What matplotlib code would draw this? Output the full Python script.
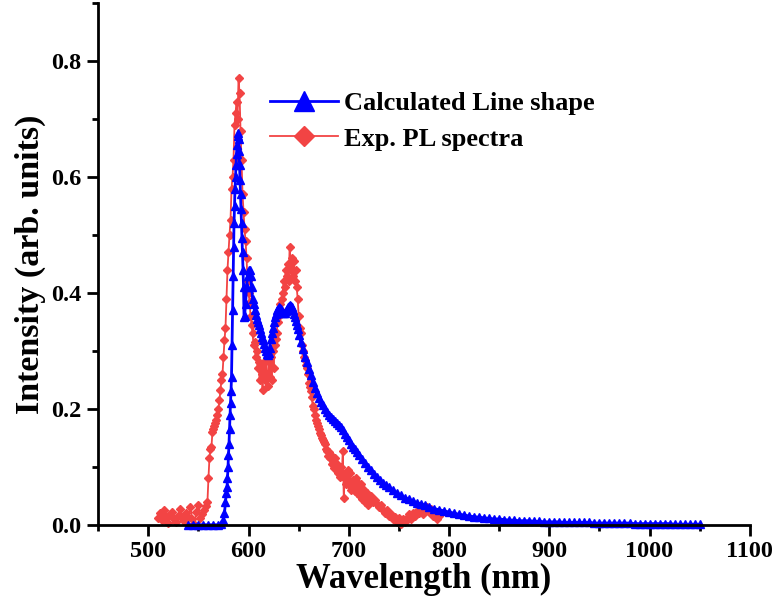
import matplotlib.pyplot as plt
from matplotlib.ticker import MultipleLocator

# calculated line shape
calc_wl = [540, 545, 550, 555, 560, 565, 570, 573, 575, 576, 577, 578, 578.5, 579, 579.5,
           580, 580.5, 581, 581.5, 582, 582.5, 583, 583.5, 584, 584.5, 585, 585.5, 586,
           586.5, 587, 587.5, 588, 588.5, 589, 589.5, 590, 590.5, 591, 591.5, 592, 592.5,
           593, 593.5, 594, 594.5, 595, 595.5, 596, 597, 598, 599, 600, 601, 602, 603,
           604, 605, 606, 607, 608, 609, 610, 611, 612, 613, 614, 615, 616, 617, 618, 619,
           620, 621, 622, 623, 624, 625, 626, 627, 628, 629, 630, 631, 632, 633, 634, 635,
           636, 637, 638, 639, 640, 641, 642, 643, 644, 645, 646, 647, 648, 649, 650, 652,
           654, 656, 658, 660, 662, 664, 666, 668, 670, 672, 674, 676, 678, 680, 682, 684,
           686, 688, 690, 692, 694, 696, 698, 700, 702, 704, 706, 708, 710, 713, 716, 719,
           722, 725, 728, 731, 734, 737, 740, 744, 748, 752, 756, 760, 764, 768, 772, 776,
           780, 785, 790, 795, 800, 805, 810, 815, 820, 825, 830, 835, 840, 845, 850, 855,
           860, 865, 870, 875, 880, 885, 890, 895, 900, 905, 910, 915, 920, 925, 930, 935,
           940, 945, 950, 955, 960, 965, 970, 975, 980, 985, 990, 995, 1000, 1005, 1010,
           1015, 1020, 1025, 1030, 1035, 1040, 1045, 1050]
calc_int = [0.0, 0.0, 0.0, 0.0, 0.0, 0.0, 0.0, 0.002, 0.008, 0.02, 0.04, 0.055, 0.065, 0.08, 0.1,
            0.12, 0.14, 0.165, 0.19, 0.21, 0.23, 0.255, 0.31, 0.37, 0.43, 0.48, 0.52, 0.55,
            0.58, 0.6, 0.62, 0.64, 0.655, 0.67, 0.675, 0.665, 0.645, 0.62, 0.595, 0.57, 0.545,
            0.52, 0.495, 0.47, 0.44, 0.41, 0.358, 0.36, 0.38, 0.41, 0.43, 0.44, 0.44, 0.43, 0.41,
            0.39, 0.38, 0.37, 0.362, 0.355, 0.35, 0.345, 0.338, 0.33, 0.324, 0.318, 0.311, 0.305,
            0.299, 0.294, 0.293, 0.296, 0.305, 0.32, 0.33, 0.34, 0.35, 0.358, 0.364, 0.37, 0.373,
            0.375, 0.374, 0.372, 0.369, 0.366, 0.365, 0.366, 0.368, 0.372, 0.375, 0.378, 0.379,
            0.378, 0.375, 0.37, 0.364, 0.358, 0.352, 0.345, 0.337, 0.328, 0.316, 0.303, 0.29,
            0.28, 0.268, 0.258, 0.247, 0.236, 0.227, 0.218, 0.211, 0.206, 0.2, 0.195, 0.19,
            0.186, 0.182, 0.179, 0.176, 0.173, 0.169, 0.164, 0.157, 0.151, 0.146, 0.14, 0.135,
            0.13, 0.125, 0.12, 0.113, 0.106, 0.1, 0.094, 0.088, 0.082, 0.077, 0.072, 0.068,
            0.065, 0.06, 0.055, 0.051, 0.047, 0.044, 0.041, 0.038, 0.036, 0.034, 0.031, 0.028,
            0.026, 0.024, 0.022, 0.02, 0.018, 0.017, 0.015, 0.014, 0.013, 0.012, 0.011, 0.01,
            0.01, 0.009, 0.008, 0.008, 0.007, 0.007, 0.007, 0.006, 0.006, 0.005, 0.005, 0.005,
            0.005, 0.004, 0.004, 0.004, 0.004, 0.004, 0.004, 0.003, 0.003, 0.003, 0.003, 0.003,
            0.003, 0.003, 0.003, 0.002, 0.002, 0.002, 0.002, 0.002, 0.002, 0.002, 0.002, 0.001,
            0.001, 0.001, 0.001, 0.001, 0.001]

exp_wl = [510, 512, 514, 516, 518, 520, 522, 524, 526, 528, 530, 532, 534, 536, 538, 540,
          542, 544, 546, 548, 550, 552, 554, 556, 558, 559, 560, 561, 562, 563, 564, 565,
          566, 567, 568, 569, 570, 571, 572, 573, 574, 575, 576, 577, 578, 579, 580, 581,
          582, 583, 584, 585, 586, 587, 588, 589, 590, 591, 592, 593, 594, 595, 596, 597,
          598, 599, 600, 601, 602, 603, 604, 605, 606, 607, 608, 609, 610, 611, 612, 613,
          614, 615, 616, 617, 618, 619, 620, 621, 622, 623, 624, 625, 626, 627, 628, 629,
          630, 631, 632, 633, 634, 635, 636, 637, 638, 639, 640, 641, 642, 643, 644, 645,
          646, 647, 648, 649, 650, 651, 652, 653, 654, 655, 656, 657, 658, 659, 660, 661,
          662, 663, 664, 665, 666, 667, 668, 669, 670, 671, 672, 673, 674, 675, 676, 677,
          678, 679, 680, 681, 682, 683, 684, 685, 686, 687, 688, 689, 690, 691, 692, 693,
          694, 695, 696, 697, 698, 699, 700, 701, 702, 703, 704, 705, 706, 707, 708, 709,
          710, 711, 712, 713, 714, 715, 716, 717, 718, 719, 720, 722, 724, 726, 728, 730,
          732, 734, 736, 738, 740, 742, 744, 746, 748, 750, 752, 754, 756, 758, 760, 762,
          764, 766, 768, 770, 772, 774, 776, 778, 780, 782, 784, 786, 788, 790]
exp_int = [0.012, 0.02, 0.008, 0.025, 0.015, 0.003, 0.018, 0.022, 0.01, 0.004, 0.016, 0.028,
           0.012, 0.006, 0.02, 0.014, 0.03, 0.01, 0.002, 0.022, 0.035, 0.012, 0.018, 0.025,
           0.032, 0.04, 0.08, 0.115, 0.13, 0.135, 0.16, 0.165, 0.17, 0.175, 0.18, 0.19, 0.2,
           0.215, 0.232, 0.25, 0.26, 0.29, 0.318, 0.34, 0.39, 0.44, 0.47, 0.5, 0.525, 0.58,
           0.6, 0.63, 0.69, 0.71, 0.73, 0.7, 0.77, 0.745, 0.68, 0.63, 0.57, 0.54, 0.51, 0.49,
           0.46, 0.42, 0.4, 0.385, 0.36, 0.345, 0.33, 0.31, 0.315, 0.29, 0.3, 0.27, 0.28, 0.25,
           0.27, 0.26, 0.232, 0.28, 0.25, 0.3, 0.26, 0.24, 0.28, 0.255, 0.29, 0.25, 0.3, 0.27,
           0.31, 0.32, 0.33, 0.35, 0.36, 0.38, 0.37, 0.39, 0.4, 0.42, 0.41, 0.44, 0.43, 0.45,
           0.42, 0.48, 0.44, 0.46, 0.43, 0.455, 0.42, 0.44, 0.41, 0.39, 0.36, 0.34, 0.33, 0.31,
           0.3, 0.29, 0.285, 0.275, 0.27, 0.26, 0.245, 0.238, 0.23, 0.22, 0.205, 0.2, 0.19,
           0.18, 0.175, 0.17, 0.165, 0.158, 0.155, 0.15, 0.146, 0.142, 0.14, 0.13, 0.128,
           0.118, 0.125, 0.115, 0.12, 0.105, 0.11, 0.098, 0.115, 0.1, 0.105, 0.09, 0.095,
           0.082, 0.1, 0.085, 0.128, 0.046, 0.088, 0.07, 0.08, 0.095, 0.068, 0.09, 0.06, 0.072,
           0.078, 0.065, 0.058, 0.08, 0.055, 0.063, 0.07, 0.05, 0.07, 0.045, 0.055, 0.06, 0.04,
           0.05, 0.055, 0.035, 0.045, 0.05, 0.04, 0.042, 0.036, 0.03, 0.034, 0.026, 0.02,
           0.025, 0.015, 0.018, 0.01, 0.014, 0.005, 0.012, 0.002, 0.01, 0.004, 0.012, 0.018,
           0.01, 0.02, 0.015, 0.024, 0.02, 0.028, 0.018, 0.025, 0.03, 0.022, 0.028, 0.015,
           0.02, 0.01, 0.016]

plt.rcParams['font.family'] = 'Liberation Serif'
plt.rcParams['font.weight'] = 'bold'

fig = plt.figure(figsize=(7.73, 6.06), dpi=100)
ax = fig.add_axes([0.127, 0.134, 0.843, 0.861])

ax.plot(exp_wl, exp_int, color='#F24444', marker='D', markersize=4.5, linewidth=1.3,
        label='Exp. PL spectra', clip_on=False, zorder=2)
ax.plot(calc_wl, calc_int, color='#0000FF', marker='^', markersize=6, linewidth=2,
        label='Calculated Line shape', clip_on=False, zorder=3)

ax.set_xlim(450, 1100)
ax.set_ylim(0, 0.9)
ax.xaxis.set_minor_locator(MultipleLocator(50))
ax.yaxis.set_minor_locator(MultipleLocator(0.1))
ax.set_xticks([500, 600, 700, 800, 900, 1000, 1100])
ax.set_yticks([0.0, 0.2, 0.4, 0.6, 0.8])
ax.set_yticklabels(['0.0', '0.2', '0.4', '0.6', '0.8'])

for side in ['top', 'right']:
    ax.spines[side].set_visible(False)
for side in ['left', 'bottom']:
    ax.spines[side].set_linewidth(2)
    ax.spines[side].set_zorder(5)
ax.tick_params(which='major', direction='out', length=8, width=2, labelsize=17.5, pad=4)
ax.tick_params(which='minor', direction='out', length=4, width=2)

ax.set_xlabel('Wavelength (nm)', fontsize=25, fontweight='bold', labelpad=0)
ax.set_ylabel('Intensity (arb. units)', fontsize=24.5, fontweight='bold', labelpad=4)

handles, labels = ax.get_legend_handles_labels()
leg = ax.legend(handles[::-1], labels[::-1], loc='upper left', bbox_to_anchor=(0.247, 0.85),
                frameon=False, fontsize=19, markerscale=2.3, handlelength=2.6,
                handletextpad=0.2, labelspacing=0.45, borderaxespad=0)

fig.savefig('out.png', dpi=100)
